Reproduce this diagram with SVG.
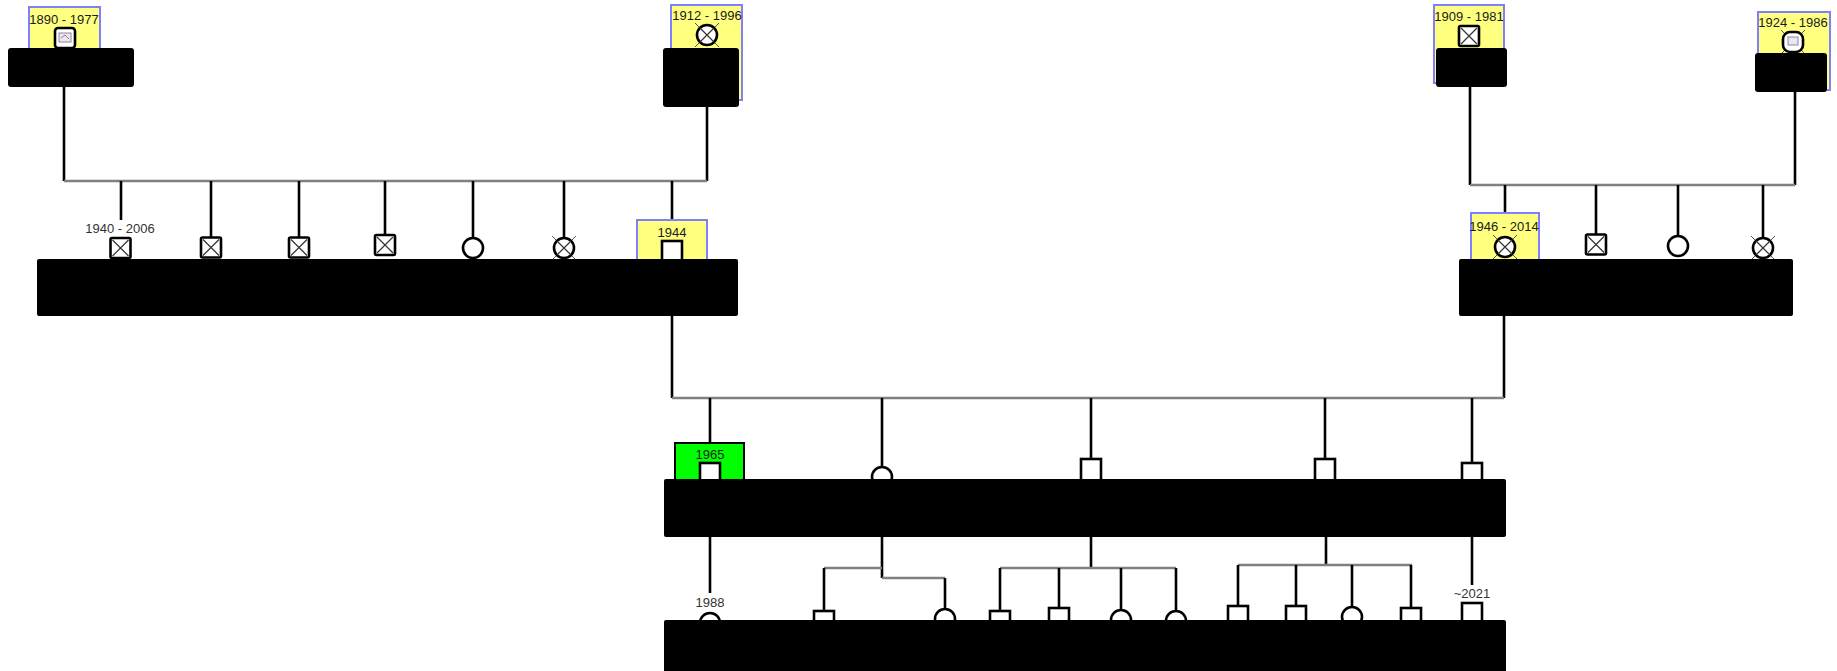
<svg xmlns="http://www.w3.org/2000/svg" width="1837" height="671" viewBox="0 0 1837 671">
<defs>
<style>
.bg{fill:#ffffff}
.name{fill:#000000}
.yel{fill:#ffff80;stroke:#8080ff;stroke-width:2}
.grn{fill:#00ff00;stroke:#000000;stroke-width:2}
.sym{fill:#ffffff;stroke:#000000;stroke-width:2.6}
.x{stroke:#333333;stroke-width:1.2;fill:none}
.xo{stroke:#555555;stroke-width:1;fill:none}
.v{stroke:#000000;stroke-width:2.6;fill:none}
.h{stroke:#808080;stroke-width:2.6;fill:none}
.t{font-family:"Liberation Sans",Arial,sans-serif;font-size:13px;text-anchor:middle;fill:#333333}
.t2{font-family:"Liberation Sans",Arial,sans-serif;font-size:13px;text-anchor:middle;fill:#1a1a1a}
</style>
<g id="sqx">
<rect class="sym" x="-10" y="-10" width="20" height="20" rx="1.5"/>
<path class="x" d="M-8,-8 L8,8 M8,-8 L-8,8"/>
</g>
<g id="cx">
<circle class="sym" cx="0" cy="0" r="10"/>
<path class="x" d="M-7,-7 L7,7 M7,-7 L-7,7"/>
<path class="xo" d="M-12,-12 L-8,-8 M12,-12 L8,-8 M-12,12 L-8,8 M12,12 L8,8"/>
</g>
</defs>
<rect class="bg" x="0" y="0" width="1837" height="671"/>

<g id="connectors">
<!-- grandparents left -->
<path class="v" d="M64,87 V181 M707,107 V181"/>
<path class="h" d="M64,181 H707"/>
<path class="v" d="M121,181 V220 M211,181 V237 M299,181 V237 M385,181 V235 M473,181 V238 M564,181 V238 M672,181 V220"/>
<!-- grandparents right -->
<path class="v" d="M1470,87 V185 M1795,92 V185"/>
<path class="h" d="M1470,185 H1795"/>
<path class="v" d="M1505,185 V213 M1596,185 V234 M1678,185 V236 M1763,185 V238"/>
<!-- parents -->
<path class="v" d="M672,316 V398 M1504,316 V398"/>
<path class="h" d="M672,398 H1504"/>
<path class="v" d="M710,398 V443 M882,398 V467 M1091,398 V459 M1325,398 V459 M1472,398 V463"/>
<!-- grandchildren -->
<path class="v" d="M710,537 V593"/>
<path class="v" d="M882,537 V578"/>
<path class="h" d="M824,568 H882 M882,578 H945"/>
<path class="v" d="M824,568 V611 M945,578 V609"/>
<path class="v" d="M1091,537 V568"/>
<path class="h" d="M1000,568 H1176"/>
<path class="v" d="M1000,568 V611 M1059,568 V608 M1121,568 V610 M1176,568 V611"/>
<path class="v" d="M1326,537 V565"/>
<path class="h" d="M1238,565 H1412"/>
<path class="v" d="M1238,565 V606 M1296,565 V606 M1352,565 V607 M1411,565 V608"/>
<path class="v" d="M1472,537 V585"/>
</g>

<!-- generation 1 -->
<g id="p1890">
<rect class="yel" x="29" y="7" width="71" height="46"/>
<text class="t2" x="64" y="24">1890 - 1977</text>
<rect class="sym" x="55" y="28" width="20" height="20" rx="3"/>
<rect x="59" y="33" width="12" height="9" fill="#e8e8f0" stroke="#8888aa" stroke-width="1"/>
<path d="M61,38 L65,35 L69,39" stroke="#d06080" stroke-width="1" fill="none"/>
<rect class="name" x="8" y="48" width="126" height="39" rx="3"/>
</g>
<g id="p1912">
<rect class="yel" x="671" y="5" width="71" height="95"/>
<text class="t2" x="707" y="20">1912 - 1996</text>
<use href="#cx" x="707" y="35"/>
<rect class="name" x="663" y="48" width="76" height="59" rx="3"/>
</g>
<g id="p1909">
<rect class="yel" x="1434" y="5" width="70" height="78"/>
<text class="t2" x="1469" y="21">1909 - 1981</text>
<use href="#sqx" x="1469" y="36"/>
<rect class="name" x="1436" y="48" width="71" height="39" rx="3"/>
</g>
<g id="p1924">
<rect class="yel" x="1758" y="12" width="72" height="78"/>
<text class="t2" x="1793" y="27">1924 - 1986</text>
<path class="xo" d="M1781,30 L1786,35 M1805,30 L1800,35 M1781,54 L1786,49 M1805,54 L1800,49"/>
<rect class="sym" x="1783" y="32" width="20" height="20" rx="7"/>
<rect x="1788" y="37" width="10" height="8" fill="#e8e8f0" stroke="#8888aa" stroke-width="1"/>
<rect class="name" x="1755" y="53" width="72" height="39" rx="3"/>
</g>

<!-- generation 2 left -->
<g id="c1">
<text class="t" x="120" y="233">1940 - 2006</text>
<use href="#sqx" x="120.5" y="248"/>
</g>
<g id="c2"><use href="#sqx" x="211" y="247.5"/></g>
<g id="c3"><use href="#sqx" x="299" y="247.5"/></g>
<g id="c4"><use href="#sqx" x="385" y="245"/></g>
<g id="c5"><circle class="sym" cx="473" cy="248" r="10"/></g>
<g id="c6"><use href="#cx" x="564" y="248"/></g>
<g id="c7">
<rect class="yel" x="637" y="220" width="70" height="44"/>
<text class="t2" x="672" y="237">1944</text>
<rect class="sym" x="662" y="241" width="20" height="22"/>
</g>
<g id="family1"><rect class="name" x="37" y="259" width="701" height="57" rx="2"/></g>

<!-- generation 2 right -->
<g id="d1">
<rect class="yel" x="1471" y="213" width="68" height="50"/>
<text class="t2" x="1504" y="231">1946 - 2014</text>
<use href="#cx" x="1505" y="247"/>
</g>
<g id="d2"><use href="#sqx" x="1596" y="244.5"/></g>
<g id="d3"><circle class="sym" cx="1678" cy="246" r="10"/></g>
<g id="d4"><use href="#cx" x="1763" y="248"/></g>
<g id="family2"><rect class="name" x="1459" y="259" width="334" height="57" rx="2"/></g>

<!-- generation 3 -->
<g id="e1">
<rect class="grn" x="675" y="443" width="69" height="40"/>
<text class="t2" x="710" y="459">1965</text>
<rect class="sym" x="700" y="463" width="20" height="20"/>
</g>
<g id="e2"><circle class="sym" cx="882" cy="477" r="10"/></g>
<g id="e3"><rect class="sym" x="1081" y="459" width="20" height="22"/></g>
<g id="e4"><rect class="sym" x="1315" y="459" width="20" height="22"/></g>
<g id="e5"><rect class="sym" x="1462" y="463" width="20" height="20"/></g>
<g id="family3"><rect class="name" x="664" y="479" width="842" height="58" rx="2"/></g>

<!-- generation 4 -->
<g id="f1">
<text class="t" x="710" y="607">1988</text>
<circle class="sym" cx="710" cy="623" r="10"/>
</g>
<g id="f2"><rect class="sym" x="814" y="611" width="20" height="20"/></g>
<g id="f3"><circle class="sym" cx="945" cy="619" r="10"/></g>
<g id="f4"><rect class="sym" x="990" y="611" width="20" height="20"/></g>
<g id="f5"><rect class="sym" x="1049" y="608" width="20" height="22"/></g>
<g id="f6"><circle class="sym" cx="1121" cy="620" r="10"/></g>
<g id="f7"><circle class="sym" cx="1176" cy="621" r="10"/></g>
<g id="f8"><rect class="sym" x="1228" y="606" width="20" height="22"/></g>
<g id="f9"><rect class="sym" x="1286" y="606" width="20" height="22"/></g>
<g id="f10"><circle class="sym" cx="1352" cy="617" r="10"/></g>
<g id="f11"><rect class="sym" x="1401" y="608" width="20" height="22"/></g>
<g id="f12">
<text class="t" x="1472" y="598">~2021</text>
<rect class="sym" x="1462" y="603" width="20" height="22"/>
</g>
<g id="family4"><rect class="name" x="664" y="620" width="842" height="55" rx="2"/></g>
</svg>
